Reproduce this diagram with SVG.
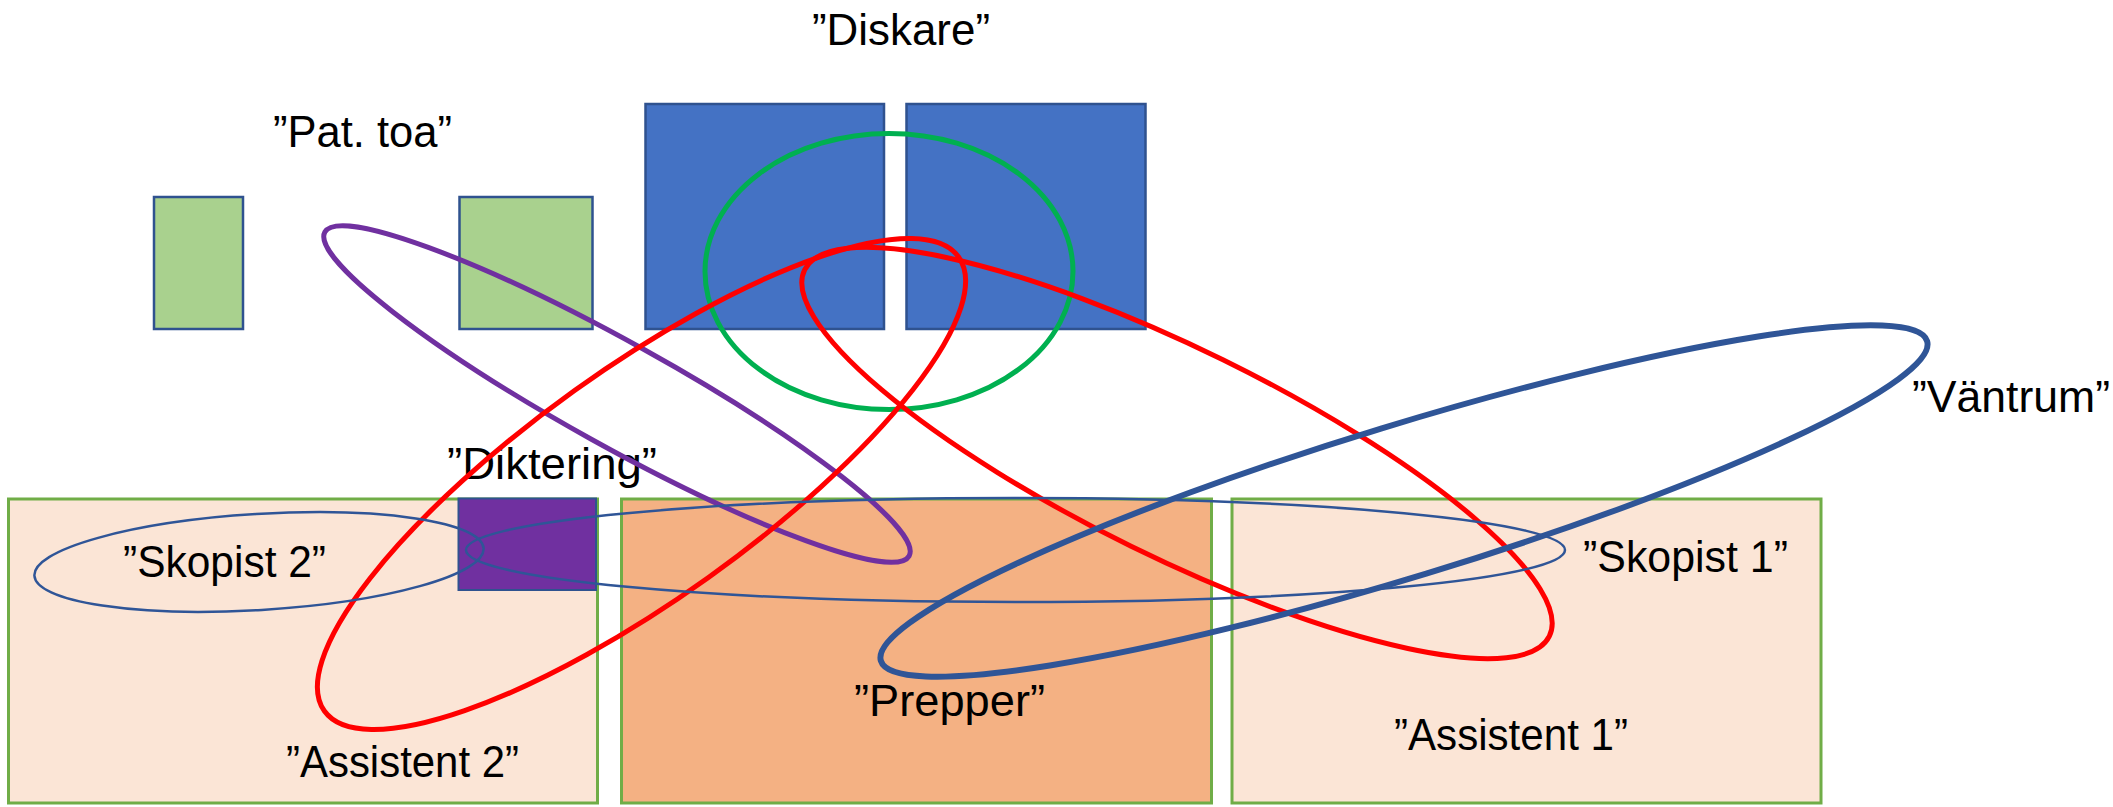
<svg xmlns="http://www.w3.org/2000/svg" width="2113" height="807" viewBox="0 0 2113 807">
<style>
.lbl{font-family:"Liberation Sans",Arial,sans-serif;font-size:44px;fill:#000}
.room{fill:#FBE5D6;stroke:#70AD47;stroke-width:3}
.prep{fill:#F4B183;stroke:#70AD47;stroke-width:3}
.disk{fill:#4472C4;stroke:#2F528F;stroke-width:2.5}
.toa{fill:#A9D18E;stroke:#2F528F;stroke-width:2.5}
.dikt{fill:#7030A0;stroke:#2F528F;stroke-width:2}
.loop{fill:none}
</style>
<rect width="2113" height="807" fill="#fff"/>
<g id="assistent2"><rect class="room" x="8.5" y="499" width="589" height="304"/><text class="lbl" x="286" y="777" textLength="233" lengthAdjust="spacingAndGlyphs">”Assistent 2”</text></g>
<g id="prepper"><rect class="prep" x="621.5" y="499" width="590" height="304"/><text class="lbl" x="854" y="716" textLength="191" lengthAdjust="spacingAndGlyphs">”Prepper”</text></g>
<g id="assistent1"><rect class="room" x="1232" y="499" width="589" height="304"/><text class="lbl" x="1394" y="750" textLength="234" lengthAdjust="spacingAndGlyphs">”Assistent 1”</text></g>
<g id="pattoa"><rect class="toa" x="154" y="197" width="89" height="132"/><rect class="toa" x="459.5" y="197" width="133" height="132"/><text class="lbl" x="273" y="147" textLength="179" lengthAdjust="spacingAndGlyphs">”Pat. toa”</text></g>
<g id="diskare"><rect class="disk" x="645.5" y="104" width="238.5" height="225"/><rect class="disk" x="906.5" y="104" width="239" height="225"/><text class="lbl" x="812" y="45" textLength="178" lengthAdjust="spacingAndGlyphs">”Diskare”</text></g>
<g id="diktering"><rect class="dikt" x="458.5" y="498.5" width="137.5" height="91.5"/><text class="lbl" x="447" y="479" textLength="210" lengthAdjust="spacingAndGlyphs">”Diktering”</text></g>
<g id="skopist2"><text class="lbl" x="123" y="577" textLength="203" lengthAdjust="spacingAndGlyphs">”Skopist 2”</text></g>
<g id="skopist1"><text class="lbl" x="1583" y="572" textLength="205" lengthAdjust="spacingAndGlyphs">”Skopist 1”</text></g>
<g id="vantrum"><text class="lbl" x="1912" y="412" textLength="198" lengthAdjust="spacingAndGlyphs">”Väntrum”</text></g>
<g id="connectors">
<ellipse class="loop" cx="889" cy="271.5" rx="184" ry="138" stroke="#00B050" stroke-width="5"/>
<ellipse class="loop" cx="617" cy="394" rx="334" ry="52" transform="rotate(29 617 394)" stroke="#7030A0" stroke-width="5"/>
<ellipse class="loop" cx="641.5" cy="484" rx="390" ry="115" transform="rotate(-35.6 641.5 484)" stroke="#FF0000" stroke-width="5"/>
<ellipse class="loop" cx="1177" cy="453" rx="415" ry="104" transform="rotate(26.2 1177 453)" stroke="#FF0000" stroke-width="5"/>
<ellipse class="loop" cx="1404" cy="501" rx="547" ry="76" transform="rotate(-17 1404 501)" stroke="#2F5597" stroke-width="6"/>
<ellipse class="loop" cx="1015.5" cy="550" rx="549.5" ry="52" stroke="#2F5597" stroke-width="2.5"/>
<ellipse class="loop" cx="259" cy="562" rx="225" ry="48" transform="rotate(-3.5 259 562)" stroke="#2F5597" stroke-width="2.5"/>
</g>
</svg>
